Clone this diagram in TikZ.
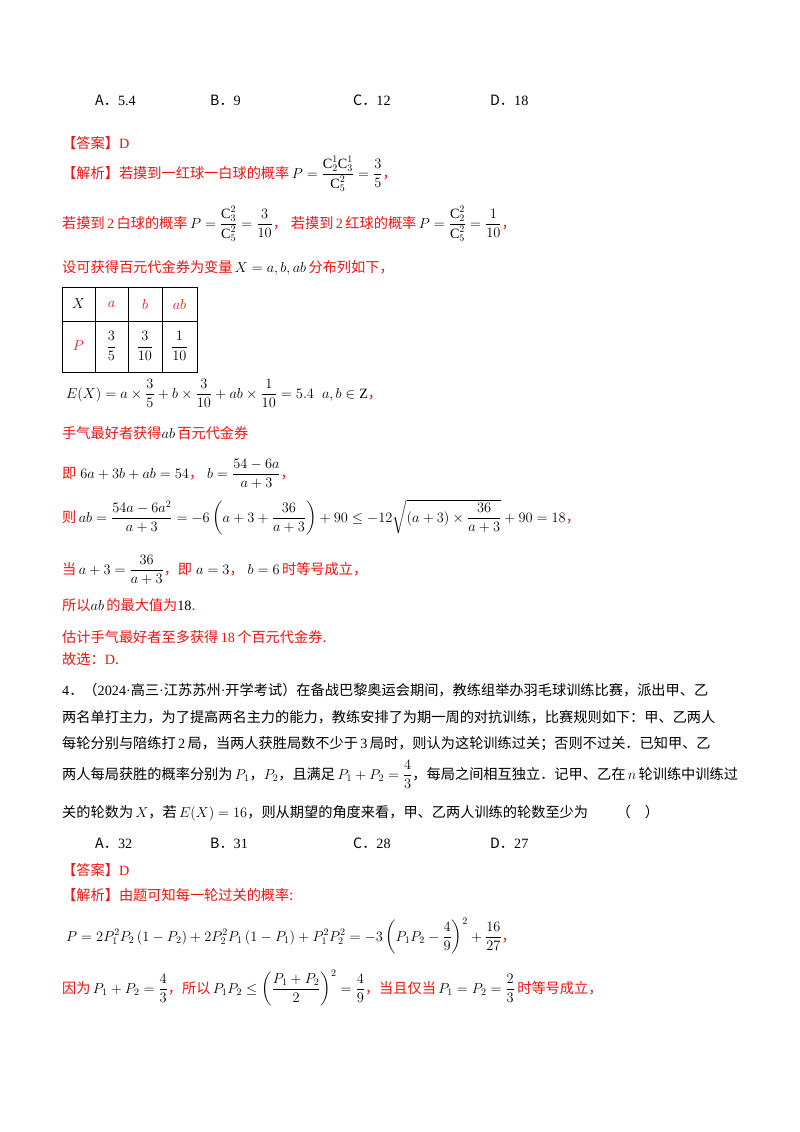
\documentclass[tikz,border=0pt]{standalone}
\usepackage{amsmath,amssymb}
\usepackage{fontspec}
\setmainfont{Noto Sans CJK SC}
\newfontfamily\ser{Liberation Serif}
\definecolor{rd}{RGB}{240,20,20}
\tikzset{ln/.style={anchor=base west,inner sep=0pt,font=\fontsize{14.2}{16}\selectfont},
 rl/.style={ln,text=rd}}
\newcommand{\n}[1]{{\ser #1}}
\newcommand{\Cc}{\text{\ser C}}
\newcommand{\Zz}{\text{\ser Z}}
\begin{document}
\begin{tikzpicture}[x=1pt,y=-1pt]
\useasboundingbox[fill=white] (0,0) rectangle (800,1132);
\node[ln] (a1) at (95,105) {A．\n{5.4}};
\node[ln] (b1) at (210,105) {B．\n{9}};
\node[ln] (c1) at (353,105) {C．\n{12}};
\node[ln] (d1) at (490,105) {D．\n{18}};
\node[rl] (l1) at (62,148) {【答案】\n{D}};
\node[rl] (l2) at (62,178) {【解析】若摸到一红球一白球的概率\,\color{black}$P=\dfrac{\Cc_2^1\Cc_3^1}{\Cc_5^2}=\dfrac35$\color{rd}，};
\node[rl] (l3) at (62,228) {若摸到\,\n{2}\,白球的概率\,\color{black}$P=\dfrac{\Cc_3^2}{\Cc_5^2}=\dfrac{3}{10}$\color{rd}，\;若摸到\,\n{2}\,红球的概率\,\color{black}$P=\dfrac{\Cc_2^2}{\Cc_5^2}=\dfrac{1}{10}$\color{rd}，};
\node[rl] (l4) at (62,272) {设可获得百元代金券为变量\,\color{black}$X=a,b,ab$\,\color{rd}分布列如下，};
% table
\draw[line width=0.6pt] (62,287) rectangle (197,372) (62,321) -- (197,321) (95,287) -- (95,372) (128,287) -- (128,372) (162,287) -- (162,372);
\node[ln,anchor=center] (tX) at (78.5,304) {$X$};
\node[ln,anchor=center,text=rd] (ta) at (111.5,304) {$a$};
\node[ln,anchor=center,text=rd] (tb) at (145,304) {$b$};
\node[ln,anchor=center,text=rd] (tab) at (179.5,304) {$ab$};
\node[ln,anchor=center,text=rd] (tP) at (78.5,346) {$P$};
\node[ln,anchor=center] (t1) at (111.5,346) {$\dfrac35$};
\node[ln,anchor=center] (t2) at (145,346) {$\dfrac{3}{10}$};
\node[ln,anchor=center] (t3) at (179.5,346) {$\dfrac{1}{10}$};
\node[ln] (l5) at (66,398) {$E(X)=a\times\dfrac35+b\times\dfrac{3}{10}+ab\times\dfrac{1}{10}=5.4\;\;a,b\in\Zz$\color{rd}，};
\node[rl] (l6) at (62,438) {手气最好者获得\color{black}$ab$\,\color{rd}百元代金券};
\node[rl] (l7) at (62,478) {即\;\color{black}$6a+3b+ab=54$\color{rd}，\;\color{black}$b=\dfrac{54-6a}{a+3}$\color{rd}，};
\node[rl] (l8) at (62,522) {则\,\color{black}$ab=\dfrac{54a-6a^2}{a+3}=-6\left(a+3+\dfrac{36}{a+3}\right)+90\le-12\sqrt{(a+3)\times\dfrac{36}{a+3}}+90=18$\color{rd}，};
\node[rl] (l9) at (62,574) {当\,\color{black}$a+3=\dfrac{36}{a+3}$\color{rd}，即\;\color{black}$a=3$\color{rd}，\;\color{black}$b=6$\,\color{rd}时等号成立，};
\node[rl] (l10) at (62,610) {所以\color{black}$ab$\,\color{rd}的最大值为\color{black}\n{18}\color{rd}.};
\node[rl] (l11) at (62,642) {估计手气最好者至多获得\,\n{18}\,个百元代金券.};
\node[rl] (l12) at (62,664) {故选：\n{D}.};
\node[ln] (q1) at (62,695) {\n{4}．（\n{2024·}高三\n{·}江苏苏州\n{·}开学考试）在备战巴黎奥运会期间，教练组举办羽毛球训练比赛，派出甲、乙};
\node[ln] (q2) at (62,722) {两名单打主力，为了提高两名主力的能力，教练安排了为期一周的对抗训练，比赛规则如下：甲、乙两人};
\node[ln] (q3) at (62,748) {每轮分别与陪练打\,\n{2}\,局，当两人获胜局数不少于\,\n{3}\,局时，则认为这轮训练过关；否则不过关．已知甲、乙};
\node[ln] (q4) at (62,779) {两人每局获胜的概率分别为\,$P_1$，$P_2$，且满足\,$P_1+P_2=\dfrac43$，每局之间相互独立．记甲、乙在\,$n$\,轮训练中训练过};
\node[ln] (q5) at (62,817) {关的轮数为\,$X$，若\,$E(X)=16$，则从期望的角度来看，甲、乙两人训练的轮数至少为\qquad（\quad）};
\node[ln] (a2) at (95,848) {A．\n{32}};
\node[ln] (b2) at (210,848) {B．\n{31}};
\node[ln] (c2) at (353,848) {C．\n{28}};
\node[ln] (d2) at (490,848) {D．\n{27}};
\node[rl] (r1) at (62,875) {【答案】\n{D}};
\node[rl] (r2) at (62,900) {【解析】由题可知每一轮过关的概率:};
\node[ln] (r3) at (66,941) {$P=2P_1^2P_2\left(1-P_2\right)+2P_2^2P_1\left(1-P_1\right)+P_1^2P_2^2=-3\left(P_1P_2-\dfrac49\right)^2+\dfrac{16}{27}$\color{rd}，};
\node[rl] (r4) at (62,993) {因为\,\color{black}$P_1+P_2=\dfrac43$\color{rd}，所以\,\color{black}$P_1P_2\le\left(\dfrac{P_1+P_2}{2}\right)^2=\dfrac49$\color{rd}，当且仅当\,\color{black}$P_1=P_2=\dfrac23$\,\color{rd}时等号成立，};
\end{tikzpicture}
\end{document}
